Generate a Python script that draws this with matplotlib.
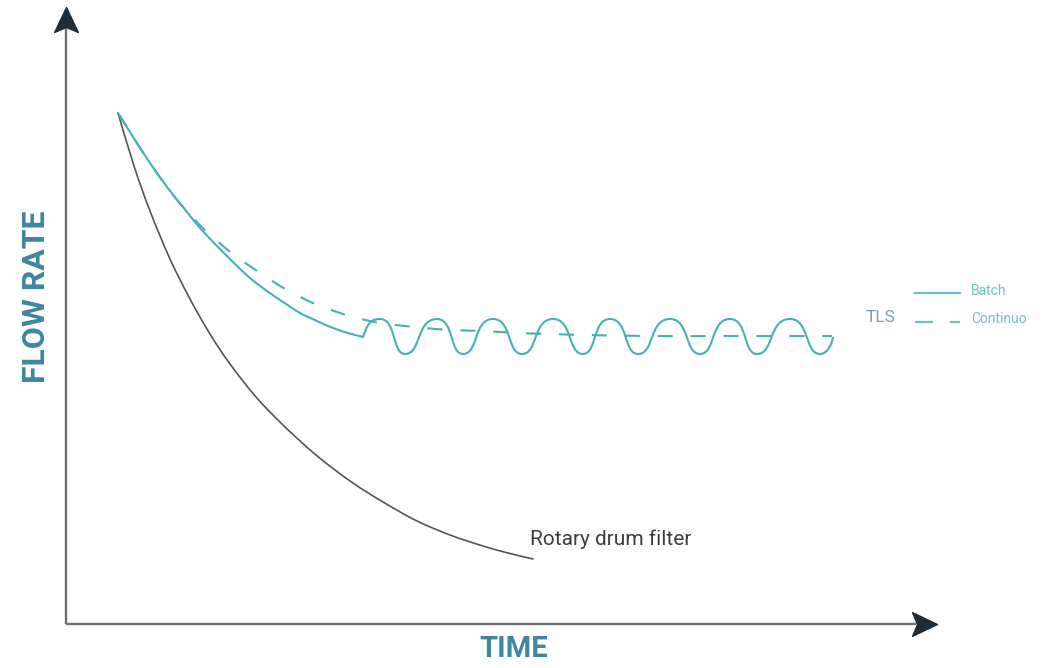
import matplotlib
matplotlib.use("Agg")
import matplotlib.pyplot as plt
from matplotlib.path import Path
from matplotlib.patches import PathPatch

# ---------------- data (schematic units: time, flow rate) ----------------
rotary_t = [52, 68, 84, 104, 124, 144, 164, 190, 217, 250, 284, 317, 351, 384, 417, 442, 467]
rotary_q = [511, 458, 413, 365, 325, 290, 260, 227, 199, 169, 143, 122, 103, 89, 78, 71, 65]

batch_t = [52, 69, 84, 101, 117, 134, 151, 167, 184, 201, 217, 234, 251, 267, 282, 297]
batch_q = [511, 484, 461, 437, 417, 396, 378, 362, 346, 333, 322, 311, 303, 296, 291, 287]

cont_t = [52, 69, 84, 101, 117, 141, 167, 194, 221, 247, 274, 287, 314, 349, 384, 417, 452, 484, 519, 584, 684, 766]
cont_q = [511, 484, 461, 437, 417, 392, 370, 351, 334, 321, 311, 307, 301, 297, 294, 293, 291, 290, 289, 288, 288, 288]

# batch cycles after the initial decay: crest / trough times and levels
wave_top_t = [314, 371, 427, 487, 544, 604, 664, 724]
wave_bot_t = [339, 397, 456, 517, 572, 634, 691, 754]
wave_top_q = 305
wave_bot_q = 270
wave_end = (767, 287)

x_label = "TIME"
y_label = "FLOW RATE"
rotary_label = "Rotary drum filter"
legend_title = "TLS"
legend_items = ["Batch", "Continuo"]

# ---------------- styling ----------------
TEAL = "#45b2b2"
TEAL_LIGHT = "#6cc3c3"
LABEL_BLUE = "#3f86a0"
GRAY_LINE = "#555555"
AXIS_GRAY = "#6f6f6f"
ARROW_DARK = "#1e2c38"
FONT = ["Roboto", "DejaVu Sans"]
CREST_HANDLE = 0.66   # Bezier handle length at crests (fraction of half-cycle)
TROUGH_HANDLE = 0.52  # Bezier handle length at troughs


def smooth_path(xs, ys):
    """Smooth curve through the given points (Catmull-Rom as cubic Bezier)."""
    pts = list(zip(xs, ys))
    verts = [pts[0]]
    codes = [Path.MOVETO]
    n = len(pts)
    for i in range(n - 1):
        p0 = pts[i - 1] if i > 0 else pts[i]
        p1 = pts[i]
        p2 = pts[i + 1]
        p3 = pts[i + 2] if i + 2 < n else pts[i + 1]
        c1 = (p1[0] + (p2[0] - p0[0]) / 6, p1[1] + (p2[1] - p0[1]) / 6)
        c2 = (p2[0] - (p3[0] - p1[0]) / 6, p2[1] - (p3[1] - p1[1]) / 6)
        verts += [c1, c2, p2]
        codes += [Path.CURVE4] * 3
    return verts, codes


fig = plt.figure(figsize=(10.46, 6.68), dpi=100)
ax = fig.add_axes([0, 0, 1, 1])
ax.set_xlim(-66, 980)
ax.set_ylim(-44, 624)
ax.axis("off")

# axes with arrow heads
ax.plot([0, 0], [0, 600], color=AXIS_GRAY, lw=1.7, solid_capstyle="butt")
ax.plot([0, 850], [0, 0], color=AXIS_GRAY, lw=1.7, solid_capstyle="butt")
up_head = Path([(0, 0), (0.95, -2), (0, -1.6), (-0.95, -2), (0, 0)],
               [Path.MOVETO, Path.LINETO, Path.LINETO, Path.LINETO, Path.CLOSEPOLY])
right_head = Path([(0, 0), (-2, 0.95), (-1.6, 0), (-2, -0.95), (0, 0)],
                  [Path.MOVETO, Path.LINETO, Path.LINETO, Path.LINETO, Path.CLOSEPOLY])
ax.plot([0], [617], marker=up_head, markersize=36, color=ARROW_DARK, mec=ARROW_DARK)
ax.plot([871], [0], marker=right_head, markersize=36, color=ARROW_DARK, mec=ARROW_DARK)

# rotary drum filter
v, c = smooth_path(rotary_t, rotary_q)
ax.add_patch(PathPatch(Path(v, c), facecolor="none", edgecolor=GRAY_LINE, lw=1.2, capstyle="round"))
ax.text(464, 79, rotary_label, fontsize=15, family=FONT,
        color="#3d3d3d", ha="left", va="baseline")

# continuous (dashed)
v, c = smooth_path(cont_t, cont_q)
ax.add_patch(PathPatch(Path(v, c), facecolor="none", edgecolor=TEAL, lw=1.5,
                       linestyle=(0, (7.2, 8.6))))

# batch: decay then repeating cycles (cubic Bezier path through crests/troughs)
verts, codes = smooth_path(batch_t, batch_q)
stations = []
for tt, tb in zip(wave_top_t, wave_bot_t):
    stations.append((tt, wave_top_q))
    stations.append((tb, wave_bot_q))
stations.append(wave_end)
prev = verts[-1]
for i, p in enumerate(stations):
    dx = p[0] - prev[0]
    rising = p[1] > prev[1]
    h_start = (TROUGH_HANDLE if rising else CREST_HANDLE) * dx
    h_end = (CREST_HANDLE if rising else TROUGH_HANDLE) * dx
    if i == 0:
        c1 = (prev[0] + 0.25 * dx, prev[1] + 0.6 * (p[1] - prev[1]))
    else:
        c1 = (prev[0] + h_start, prev[1])
    if i == len(stations) - 1:
        c2 = (p[0] - 0.1 * dx, p[1] - 0.5 * (p[1] - prev[1]))
    else:
        c2 = (p[0] - h_end, p[1])
    verts += [c1, c2, p]
    codes += [Path.CURVE4] * 3
    prev = p
ax.add_patch(PathPatch(Path(verts, codes), facecolor="none", edgecolor=TEAL, lw=1.5))

# legend
ax.text(815, 306, legend_title, fontsize=12.5, family=FONT,
        color="#7d9cae", ha="center", va="center")
ax.plot([849, 894], [331, 331], color=TEAL_LIGHT, lw=1.6)
ax.plot([849, 894], [302, 302], color=TEAL_LIGHT, lw=1.6, dashes=(8.1, 7.6))
ax.text(905, 333, legend_items[0], fontsize=10, family=FONT,
        color=TEAL_LIGHT, ha="left", va="center")
ax.text(905, 305, legend_items[1], fontsize=10, family=FONT,
        color=TEAL_LIGHT, ha="left", va="center")

# axis titles
ax.text(448, -25, x_label, fontsize=21, fontweight="bold", family=FONT,
        color=LABEL_BLUE, ha="center", va="center")
ax.text(-30, 327, y_label, fontsize=23, fontweight="bold", family=FONT,
        color=LABEL_BLUE, ha="center", va="center", rotation=90)

fig.savefig("out.png", dpi=100)
